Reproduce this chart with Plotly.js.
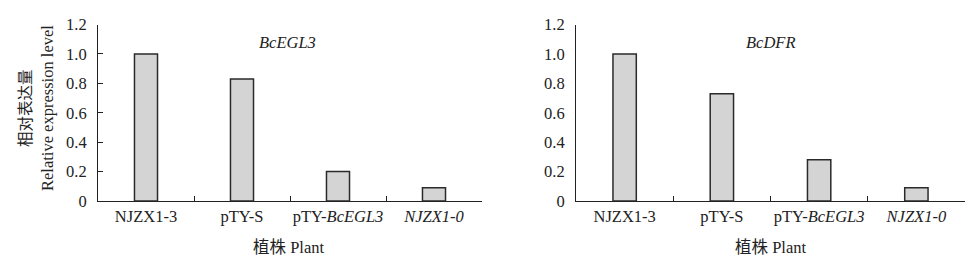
<!DOCTYPE html>
<html>
<head>
<meta charset="utf-8">
<script src="https://cdn.plot.ly/plotly-3.0.1.min.js"></script>
<style>html,body{margin:0;padding:0;background:#fff;}#chart{width:978px;height:258px;}</style>
</head>
<body>
<div id="chart"></div>
<script>
// ---- data ----
const categories = ["NJZX1-3", "pTY-S", "pTY-BcEGL3", "NJZX1-0"];
const categoryLabels = ["NJZX1-3", "pTY-S", "pTY-<i>BcEGL3</i>", "<i>NJZX1-0</i>"];
const egl3Values = [1.0, 0.83, 0.20, 0.09];
const dfrValues = [1.0, 0.73, 0.28, 0.09];
const yTickValues = [0, 0.2, 0.4, 0.6, 0.8, 1.0, 1.2];
const yTickLabels = ["0", "0.2", "0.4", "0.6", "0.8", "1.0", "1.2"];
const leftPanelTitle = "<i>BcEGL3</i>";
const rightPanelTitle = "<i>BcDFR</i>";
const yTitleCn = "相对表达量";
const yTitleEn = "Relative expression level";
const xTitle = "植株 Plant";
// right panel in the original has 8 evenly spaced tick marks (7 intervals)
const rightTickMarkCount = 7;

const serif = "Liberation Serif";
const cjk = "Noto Sans CJK SC";
const textColor = "#222";
const fs = 16.5;

const rightMarks = [];
for (let i = 0; i <= rightTickMarkCount; i++) rightMarks.push(1.2 * i / rightTickMarkCount);

const barStyle = {color: "#d4d4d4", line: {color: "#2a2a2a", width: 1.5}};

const traces = [
  {type: "bar", x: categories, y: egl3Values, xaxis: "x", yaxis: "y", width: 0.24, marker: barStyle, hoverinfo: "none"},
  {type: "bar", x: categories, y: dfrValues, xaxis: "x2", yaxis: "y2", width: 0.24, marker: barStyle, hoverinfo: "none"}
];

const yDomain = [(258 - 201) / 258, (258 - 24.5) / 258];

function xAxis(domain, anchor) {
  return {
    domain: domain, anchor: anchor, type: "category", range: [-0.5, 3.5],
    showline: true, linecolor: "#222", linewidth: 1, mirror: false,
    ticks: "inside", tickson: "boundaries", ticklen: 5, tickcolor: "#222", tickwidth: 1,
    tickmode: "array", tickvals: categories, ticktext: categoryLabels, tickangle: 0,
    tickfont: {family: serif, size: fs, color: textColor},
    showgrid: false, zeroline: false, fixedrange: true, automargin: false
  };
}
function yAxis(anchor, showTicks) {
  return {
    domain: yDomain, anchor: anchor, range: [0, 1.2],
    showline: true, linecolor: "#222", linewidth: 1,
    ticks: showTicks ? "inside" : "", ticklen: 5, tickcolor: "#222", tickwidth: 1,
    tickmode: "array", tickvals: yTickValues, ticktext: yTickLabels, tickangle: 0,
    tickfont: {family: serif, size: fs, color: textColor},
    ticklabelstandoff: 7,
    showgrid: false, zeroline: false, fixedrange: true, automargin: false
  };
}

const layout = {
  width: 978, height: 258,
  margin: {l: 0, r: 0, t: 0, b: 0},
  paper_bgcolor: "#fff", plot_bgcolor: "#fff",
  showlegend: false, bargap: 0,
  font: {family: serif, size: fs, color: textColor},
  xaxis: xAxis([98 / 978, 482 / 978], "y"),
  yaxis: yAxis("x", true),
  xaxis2: xAxis([576 / 978, 965 / 978], "y2"),
  yaxis2: yAxis("x2", false),
  yaxis3: {
    domain: yDomain, overlaying: "y2", anchor: "x2", range: [0, 1.2],
    showline: false, ticks: "inside", ticklen: 5, tickcolor: "#222", tickwidth: 1,
    tickmode: "array", tickvals: rightMarks, showticklabels: false,
    showgrid: false, zeroline: false, fixedrange: true
  },
  annotations: [
    {xref: "paper", yref: "paper", x: 287 / 978, y: (258 - 43) / 258, text: leftPanelTitle, showarrow: false,
     font: {family: serif, size: fs, color: textColor}, xanchor: "center", yanchor: "middle"},
    {xref: "paper", yref: "paper", x: 770 / 978, y: (258 - 43) / 258, text: rightPanelTitle, showarrow: false,
     font: {family: serif, size: fs, color: textColor}, xanchor: "center", yanchor: "middle"},
    {xref: "paper", yref: "paper", x: 24 / 978, y: (258 - 108) / 258, text: yTitleCn, showarrow: false, textangle: -90,
     font: {family: cjk, size: 15.5, color: textColor}, xanchor: "center", yanchor: "middle"},
    {xref: "paper", yref: "paper", x: 48 / 978, y: (258 - 108) / 258, text: yTitleEn, showarrow: false, textangle: -90,
     font: {family: serif, size: fs, color: textColor}, xanchor: "center", yanchor: "middle"},
    {xref: "paper", yref: "paper", x: 288 / 978, y: (258 - 247) / 258, text: xTitle, showarrow: false,
     font: {family: serif + ", " + cjk, size: fs, color: textColor}, xanchor: "center", yanchor: "middle"},
    {xref: "paper", yref: "paper", x: 770 / 978, y: (258 - 247) / 258, text: xTitle, showarrow: false,
     font: {family: serif + ", " + cjk, size: fs, color: textColor}, xanchor: "center", yanchor: "middle"}
  ]
};

Plotly.newPlot("chart", traces, layout, {staticPlot: true, displayModeBar: false});
</script>
</body>
</html>
